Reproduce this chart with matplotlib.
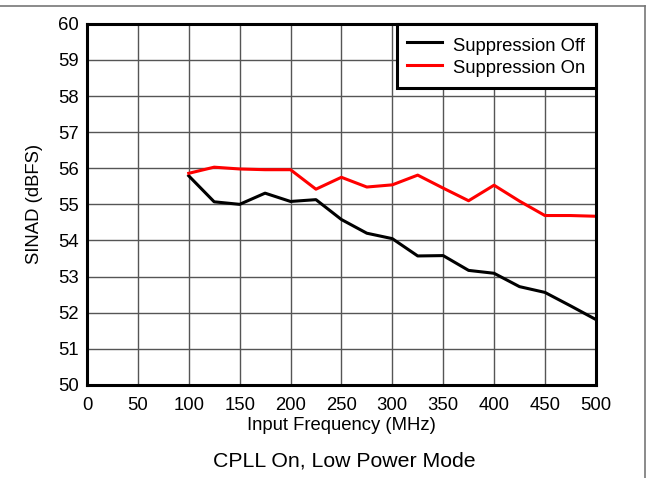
import matplotlib
matplotlib.use("Agg")
import matplotlib.pyplot as plt
from matplotlib.lines import Line2D

plt.rcParams["font.family"] = ["Liberation Sans", "DejaVu Sans"]

# input frequency (MHz)
freq = [100, 125, 150, 175, 200, 225, 250, 275, 300, 325, 350, 375, 400, 425, 450, 475, 500]
# SINAD (dBFS)
sinad_off = [55.79, 55.07, 55.00, 55.31, 55.08, 55.13, 54.58, 54.20, 54.05, 53.57, 53.58,
             53.17, 53.09, 52.72, 52.56, 52.19, 51.81]
sinad_on = [55.86, 56.03, 55.98, 55.96, 55.96, 55.42, 55.75, 55.48, 55.54, 55.81, 55.45,
            55.10, 55.53, 55.09, 54.69, 54.69, 54.67]

FS = 13.3

fig = plt.figure(figsize=(6.54, 4.78), dpi=100)
ax = fig.add_axes([0.133, 0.195, 0.778, 0.755])

ax.plot(freq, sinad_off, color="black", lw=2.2, label="Suppression Off")
ax.plot(freq, sinad_on, color="#ff0000", lw=2.2, label="Suppression On")

ax.set_xlim(0, 500)
ax.set_ylim(50, 60)
ax.set_xticks(range(0, 501, 50))
ax.set_yticks(range(50, 61, 1))
ax.tick_params(length=0, labelsize=FS)
ax.tick_params(axis="x", pad=9)
ax.tick_params(axis="y", pad=6)
ax.grid(True, color="#555555", lw=1.0)
ax.set_axisbelow(True)
for sp in ax.spines.values():
    sp.set_linewidth(2.2)
    sp.set_color("black")

ax.set_xlabel("Input Frequency (MHz)", fontsize=FS)
ax.set_ylabel("SINAD (dBFS)", fontsize=FS)
ax.xaxis.set_label_coords(0.5, -0.088)
ax.yaxis.set_label_coords(-0.0865, 0.5)

leg = ax.legend(loc="upper right", fontsize=FS, frameon=True, fancybox=False,
                borderaxespad=0, handlelength=1.9, handletextpad=0.6,
                handleheight=1.35, labelspacing=0.1, borderpad=0.55)
leg.get_frame().set_edgecolor("black")
leg.get_frame().set_linewidth(2.2)
leg.get_frame().set_alpha(1)

fig.text(0.526, 0.036, "CPLL On, Low Power Mode", ha="center", va="center", fontsize=15.3)

# outer frame lines (top and right)
fig.add_artist(Line2D([0, 0.987], [0.987, 0.987], transform=fig.transFigure,
                      color="#777777", lw=1.2))
fig.add_artist(Line2D([0.987, 0.987], [0, 0.987], transform=fig.transFigure,
                      color="#777777", lw=1.2))

fig.savefig("out.png", dpi=100)
